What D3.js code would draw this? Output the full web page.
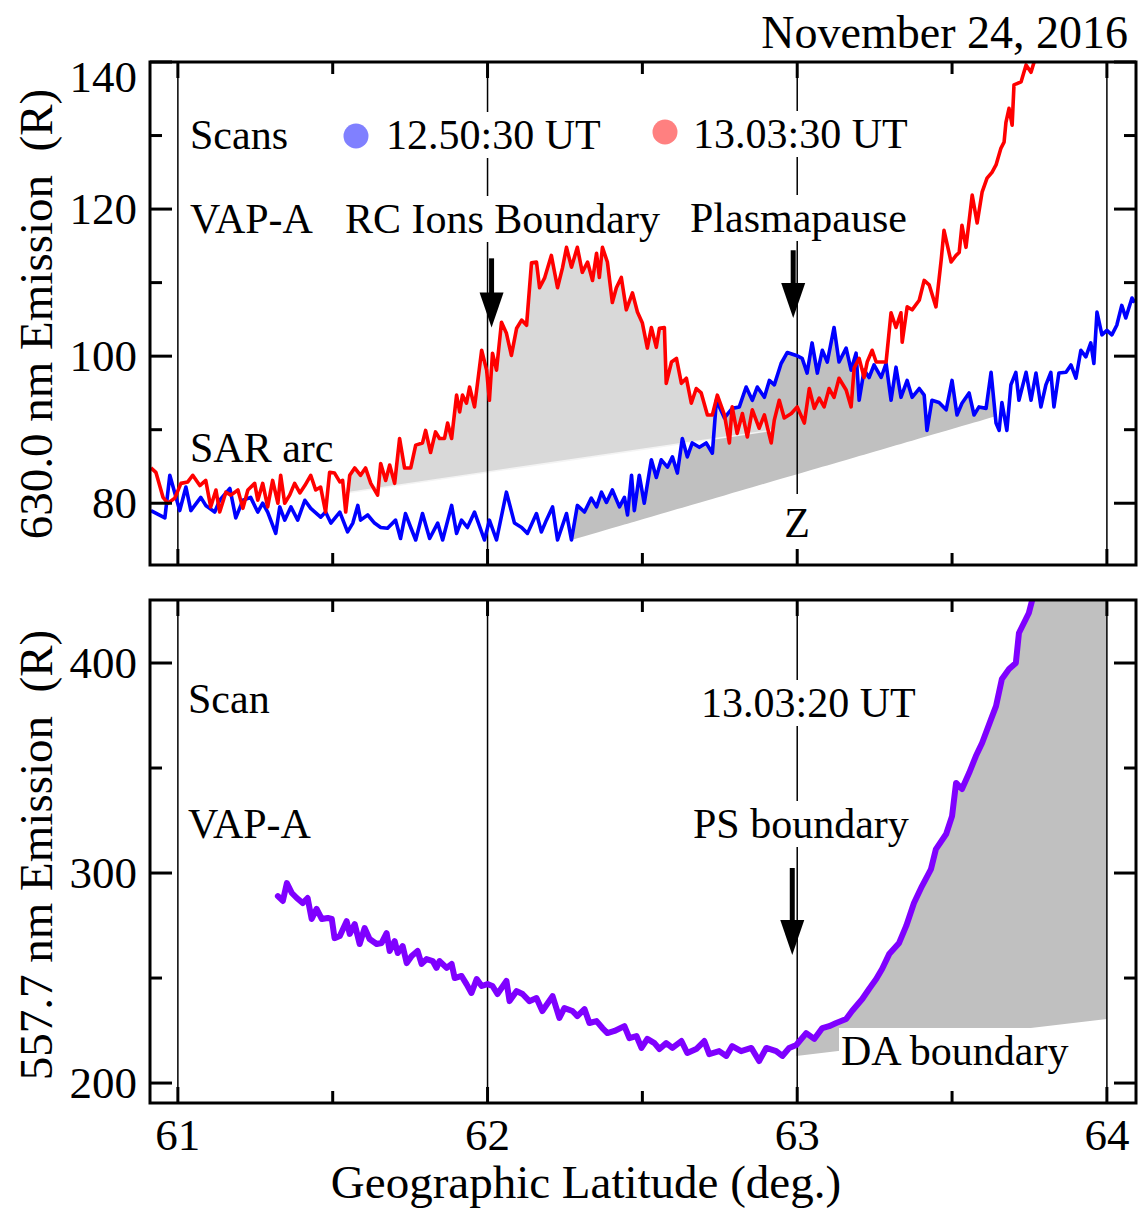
<!DOCTYPE html>
<html>
<head>
<meta charset="utf-8">
<script src="https://cdn.jsdelivr.net/npm/d3@7"></script>
<style>
  html, body { margin: 0; padding: 0; background: #fff; }
  svg { display: block; font-family: "Liberation Serif", "Times New Roman", serif; }
</style>
</head>
<body>
<svg id="chart" width="1138" height="1208"></svg>
<script>
// ---- Data: [geographic latitude (deg), emission (R)] ----
// 630.0 nm scan at 12.50:30 UT
const blueScan = [
  [60.913,79.0],[60.958,78.0],[60.974,83.8],[61.006,79.0],[61.026,82.2],[61.042,79.0],[61.074,80.8],[61.090,79.7],
  [61.119,78.8],[61.135,80.4],[61.168,82.0],[61.187,78.0],[61.210,80.4],[61.235,80.8],[61.258,78.8],[61.274,80.0],
  [61.290,78.8],[61.316,75.9],[61.329,79.5],[61.345,77.7],[61.365,79.5],[61.387,77.7],[61.410,80.4],[61.429,79.3],
  [61.461,78.1],[61.477,78.8],[61.494,77.3],[61.523,78.8],[61.548,76.1],[61.565,77.3],[61.581,79.7],[61.590,77.7],
  [61.613,78.4],[61.635,77.3],[61.655,76.7],[61.677,76.6],[61.703,77.7],[61.719,75.2],[61.735,78.6],[61.752,76.7],
  [61.768,75.0],[61.790,78.6],[61.813,75.2],[61.839,77.3],[61.855,75.0],[61.884,79.7],[61.900,75.9],[61.916,77.7],
  [61.935,76.7],[61.958,78.8],[61.990,75.0],[62.006,77.7],[62.029,75.0],[62.061,81.5],[62.087,77.3],[62.110,76.7],
  [62.129,75.9],[62.158,78.6],[62.174,76.1],[62.190,77.7],[62.210,79.5],[62.226,75.0],[62.255,78.6],[62.271,75.0],
  [62.290,79.7],[62.313,78.8],[62.335,80.7],[62.352,79.5],[62.368,81.5],[62.384,80.1],[62.403,81.8],[62.426,79.5],
  [62.442,80.8],[62.452,78.4],[62.465,83.8],[62.474,79.0],[62.490,83.8],[62.506,80.0],[62.529,85.9],[62.545,83.5],
  [62.561,85.9],[62.581,84.9],[62.597,86.3],[62.613,84.1],[62.629,88.8],[62.645,86.3],[62.661,88.2],[62.684,87.6],
  [62.706,88.2],[62.726,86.8],[62.739,94.0],[62.765,91.6],[62.790,92.9],[62.813,93.1],[62.835,95.8],[62.855,94.0],
  [62.871,95.8],[62.894,94.4],[62.910,96.7],[62.926,96.1],[62.948,99.0],[62.968,100.5],[62.997,100.1],[63.016,99.7],
  [63.032,97.7],[63.048,101.8],[63.065,97.7],[63.081,100.8],[63.097,99.2],[63.119,103.9],[63.135,99.2],[63.158,101.1],
  [63.174,98.1],[63.190,100.4],[63.200,94.0],[63.216,98.1],[63.232,97.1],[63.248,98.8],[63.271,97.1],[63.287,99.0],
  [63.303,94.0],[63.319,98.5],[63.335,94.4],[63.355,96.7],[63.371,94.4],[63.394,95.6],[63.410,94.7],[63.419,89.9],
  [63.435,94.0],[63.458,93.7],[63.481,92.7],[63.500,96.7],[63.516,92.0],[63.532,93.6],[63.555,95.0],[63.571,92.0],
  [63.587,93.1],[63.610,92.9],[63.626,97.8],[63.642,90.9],[63.652,89.9],[63.661,93.7],[63.677,89.9],[63.690,96.1],
  [63.706,97.8],[63.716,94.0],[63.739,97.8],[63.755,94.0],[63.771,97.7],[63.787,93.1],[63.803,96.1],[63.819,97.8],
  [63.829,93.1],[63.845,97.7],[63.868,97.8],[63.884,98.8],[63.900,97.0],[63.916,100.8],[63.932,99.9],[63.948,101.8],
  [63.958,99.0],[63.968,106.0],[63.984,102.9],[64.000,103.5],[64.016,102.9],[64.032,104.2],[64.048,106.9],[64.061,105.2],
  [64.081,107.9],[64.090,107.3]
];

// 630.0 nm scan at 13.03:30 UT
const redScan = [
  [60.913,84.8],[60.929,84.2],[60.952,80.8],[60.968,80.0],[60.990,80.7],[61.010,82.7],[61.032,82.9],[61.048,83.8],
  [61.071,82.4],[61.090,83.1],[61.106,79.5],[61.123,81.8],[61.135,78.8],[61.155,81.5],[61.171,81.1],[61.194,81.8],
  [61.210,79.3],[61.226,81.8],[61.248,82.7],[61.258,80.4],[61.274,82.7],[61.290,79.5],[61.306,83.1],[61.323,80.0],
  [61.332,83.8],[61.345,80.0],[61.361,81.1],[61.377,82.7],[61.394,81.4],[61.410,82.4],[61.429,83.8],[61.445,81.8],
  [61.461,82.2],[61.477,78.8],[61.490,84.2],[61.506,84.1],[61.523,82.9],[61.532,83.1],[61.542,78.8],[61.555,83.8],
  [61.571,84.8],[61.590,83.8],[61.606,84.8],[61.623,82.7],[61.645,81.1],[61.655,85.4],[61.671,83.1],[61.684,85.2],
  [61.700,82.7],[61.716,88.8],[61.732,84.8],[61.752,84.8],[61.768,87.9],[61.790,88.2],[61.800,89.9],[61.816,86.9],
  [61.832,89.7],[61.845,88.8],[61.861,88.8],[61.871,90.9],[61.884,88.8],[61.900,94.7],[61.910,92.4],[61.919,94.7],
  [61.932,93.6],[61.942,95.8],[61.958,93.1],[61.981,100.8],[61.997,98.1],[62.006,94.0],[62.016,100.4],[62.029,98.1],
  [62.045,104.6],[62.061,103.1],[62.077,100.1],[62.094,103.8],[62.110,104.9],[62.126,104.2],[62.142,112.7],[62.158,112.8],
  [62.168,109.3],[62.184,110.6],[62.206,113.7],[62.226,109.3],[62.242,112.0],[62.255,114.8],[62.271,112.1],[62.290,114.8],
  [62.306,111.4],[62.323,112.8],[62.339,110.3],[62.352,114.0],[62.361,110.7],[62.371,114.8],[62.387,112.8],[62.403,107.3],
  [62.416,109.3],[62.432,110.7],[62.448,106.3],[62.468,108.6],[62.484,106.0],[62.500,104.5],[62.516,101.1],[62.529,103.9],
  [62.545,101.2],[62.555,103.8],[62.571,103.9],[62.577,96.3],[62.594,99.2],[62.610,99.7],[62.626,96.3],[62.642,97.0],
  [62.658,93.6],[62.674,95.6],[62.690,95.0],[62.710,92.0],[62.726,92.0],[62.742,94.7],[62.765,92.0],[62.781,88.2],
  [62.790,93.1],[62.806,89.5],[62.823,92.2],[62.839,89.0],[62.855,92.7],[62.877,90.2],[62.894,92.0],[62.916,88.2],
  [62.926,91.3],[62.942,94.0],[62.958,91.6],[62.981,92.2],[63.000,93.1],[63.023,90.9],[63.039,95.6],[63.055,92.9],
  [63.071,94.3],[63.087,93.1],[63.103,95.6],[63.119,94.4],[63.135,97.0],[63.158,95.4],[63.174,93.1],[63.184,98.4],
  [63.200,99.7],[63.216,97.1],[63.226,99.2],[63.242,100.8],[63.255,99.2],[63.287,99.2],[63.303,105.9],[63.319,103.9],
  [63.335,105.9],[63.339,101.9],[63.355,106.7],[63.371,106.3],[63.394,107.6],[63.410,110.3],[63.426,109.7],[63.448,106.7],
  [63.465,113.1],[63.474,117.1],[63.497,112.8],[63.513,113.7],[63.523,114.1],[63.532,117.8],[63.545,114.8],[63.565,121.9],
  [63.581,118.1],[63.597,122.3],[63.613,124.2],[63.629,125.0],[63.642,126.0],[63.658,128.3],[63.668,129.1],[63.674,131.8],
  [63.684,133.7],[63.694,131.4],[63.700,136.9],[63.723,137.3],[63.739,139.6],[63.755,138.6],[63.765,140.0],[63.781,141.0]
];

// 557.7 nm scan at 13.03:20 UT
const purpleScan = [
  [61.323,289.0],[61.339,286.7],[61.352,295.2],[61.368,290.5],[61.384,288.1],[61.403,285.7],[61.419,288.1],[61.432,278.1],
  [61.448,282.9],[61.465,278.1],[61.484,278.6],[61.497,278.1],[61.506,269.0],[61.523,270.0],[61.545,277.1],[61.555,271.0],
  [61.571,275.7],[61.587,266.2],[61.603,273.8],[61.619,268.6],[61.642,266.2],[61.658,266.7],[61.674,271.4],[61.684,262.9],
  [61.700,267.6],[61.710,261.9],[61.726,265.2],[61.739,257.1],[61.755,260.5],[61.774,262.9],[61.787,256.7],[61.803,259.0],
  [61.823,258.1],[61.835,254.8],[61.845,258.1],[61.868,254.8],[61.884,256.7],[61.894,250.0],[61.916,251.0],[61.932,247.1],
  [61.948,242.9],[61.965,249.5],[61.981,246.2],[62.000,247.1],[62.016,246.2],[62.032,242.4],[62.061,248.6],[62.071,239.0],
  [62.094,243.8],[62.113,242.4],[62.135,239.0],[62.158,240.5],[62.177,234.3],[62.210,241.4],[62.232,231.0],[62.248,235.7],
  [62.274,234.3],[62.290,231.9],[62.313,235.2],[62.329,228.6],[62.352,229.5],[62.371,226.2],[62.387,223.8],[62.410,224.8],
  [62.442,227.1],[62.458,221.4],[62.481,222.4],[62.497,216.7],[62.516,221.0],[62.539,219.0],[62.555,216.2],[62.577,219.0],
  [62.597,216.7],[62.626,220.0],[62.645,214.3],[62.674,216.2],[62.700,220.0],[62.716,213.8],[62.748,215.2],[62.771,212.9],
  [62.790,217.6],[62.819,215.2],[62.852,216.7],[62.877,210.5],[62.900,216.7],[62.932,215.2],[62.952,212.9],[62.974,216.7],
  [62.997,218.1],[63.029,223.8],[63.055,221.0],[63.081,226.2],[63.103,227.1],[63.126,228.6],[63.158,230.5],[63.177,234.3],
  [63.210,240.0],[63.232,244.8],[63.255,249.5],[63.274,254.3],[63.297,261.4],[63.329,266.7],[63.352,274.8],[63.377,285.7],
  [63.403,293.8],[63.432,301.9],[63.448,311.4],[63.481,318.6],[63.500,327.1],[63.513,342.9],[63.532,340.0],[63.555,347.6],
  [63.577,355.7],[63.597,361.9],[63.626,373.3],[63.642,379.5],[63.661,392.4],[63.684,397.1],[63.706,400.0],[63.716,414.3],
  [63.748,423.8],[63.758,429.5],[63.768,433.3]
];

// Straight reference levels under the shaded regions: [[lat, R], [lat, R]]
const sarBaseRed  = [[61.542, 81.4], [62.916, 89.9]];
const sarBaseBlue = [[62.271, 75.0], [63.655, 92.0]];
const daBase      = [[62.997, 212.9], [64.000, 230.5]];

// Boundary arrows: [lat, start R, tip R]
const arrowsTop = [[62.013, 113.3, 103.9], [62.987, 114.4, 105.2]];
const arrowsBottom = [[62.984, 302.4, 261.0]];

// Ticks
const latMajor = [61, 62, 63, 64];
const latMinor = [61.5, 62.5, 63.5];
const topMajor = [80, 100, 120, 140];
const topMinor = [90, 110, 130];
const botMajor = [200, 300, 400];
const botMinor = [250, 350];

// ---- Layout ----
const svg = d3.select("#chart");
const L = 150, R = 1136;
const x = d3.scaleLinear().domain([60.91, 64.094]).range([L, R]);
const yTop = d3.scaleLinear().domain([71.6, 140]).range([565, 62]);
const yBot = d3.scaleLinear().domain([190.5, 430]).range([1103, 600]);

const defs = svg.append("defs");
function clip(id, y) {
  const [b, t] = y.range();
  defs.append("clipPath").attr("id", id)
    .append("rect").attr("x", L).attr("y", t).attr("width", R - L).attr("height", b - t);
}
clip("clipTop", yTop);
clip("clipBot", yBot);

const baseAt = (b, lat) => b[0][1] + (b[1][1] - b[0][1]) * (lat - b[0][0]) / (b[1][0] - b[0][0]);

const gTop = svg.append("g");
const gBot = svg.append("g");

// ---- Shaded regions ----
const fillTop = gTop.append("g").attr("clip-path", "url(#clipTop)");
const darkPts = blueScan.filter(d => d[0] >= sarBaseBlue[0][0] && d[0] <= sarBaseBlue[1][0]);
fillTop.append("path")
  .attr("d", d3.area()
    .x(d => x(d[0]))
    .y0(d => yTop(baseAt(sarBaseBlue, d[0])))
    .y1(d => yTop(Math.max(d[1], baseAt(sarBaseBlue, d[0]))))(darkPts))
  .attr("fill", "#c0c0c0");

const lightPts = redScan.filter(d => d[0] >= sarBaseRed[0][0] && d[0] <= sarBaseRed[1][0]);
fillTop.append("path")
  .attr("d", d3.area()
    .x(d => x(d[0]))
    .y0(d => yTop(baseAt(sarBaseRed, d[0])))
    .y1(d => yTop(Math.max(d[1], baseAt(sarBaseRed, d[0]))))(lightPts))
  .attr("fill", "#d9d9d9");
fillTop.append("line")
  .attr("x1", x(sarBaseRed[0][0])).attr("y1", yTop(sarBaseRed[0][1]))
  .attr("x2", x(sarBaseRed[1][0])).attr("y2", yTop(sarBaseRed[1][1]))
  .attr("stroke", "#f4f4f4").attr("stroke-width", 1.6);

const fillBot = gBot.append("g").attr("clip-path", "url(#clipBot)");
const daCurve = purpleScan.filter(d => d[0] >= daBase[0][0]);
const lastLat = daCurve[daCurve.length - 1][0];
const daPoly = daCurve.concat([[lastLat, 450], [daBase[1][0], 450], daBase[1], daBase[0]]);
fillBot.append("path")
  .attr("d", d3.line().x(d => x(d[0])).y(d => yBot(d[1]))(daPoly) + "Z")
  .attr("fill", "#c0c0c0");

// ---- Latitude guide lines ----
function guides(g, y) {
  const [b, t] = y.range();
  g.selectAll(null).data(latMajor).join("line")
    .attr("x1", d => x(d)).attr("x2", d => x(d))
    .attr("y1", t).attr("y2", b)
    .attr("stroke", "#000").attr("stroke-width", 1.5);
}
guides(gTop, yTop);
guides(gBot, yBot);

// ---- Annotations (white box behind each label) ----
function labels(g, items) {
  items.forEach(it => {
    const t = g.append("text")
      .attr("x", it.x).attr("y", it.y)
      .attr("font-size", 42)
      .attr("text-anchor", it.anchor || "start")
      .attr("fill", "#000")
      .text(it.t);
    const bb = t.node().getBBox();
    const pad = it.pad || 0;
    g.insert("rect", () => t.node())
      .attr("x", bb.x - 2).attr("y", bb.y - pad)
      .attr("width", bb.width + 4).attr("height", bb.height + 2 * pad)
      .attr("fill", "#fff");
  });
}
labels(gTop, [
  { t: "Scans", x: 190, y: 149 },
  { t: "12.50:30 UT", x: 386, y: 149 },
  { t: "13.03:30 UT", x: 693, y: 148 },
  { t: "VAP-A", x: 190, y: 233 },
  { t: "RC Ions Boundary", x: 345, y: 233 },
  { t: "Plasmapause", x: 690, y: 232 },
  { t: "SAR arc", x: 190, y: 462 },
  { t: "Z", x: 797, y: 537, anchor: "middle", pad: 6 }
]);
labels(gBot, [
  { t: "Scan", x: 188, y: 713 },
  { t: "13.03:20 UT", x: 701, y: 717 },
  { t: "VAP-A", x: 188, y: 838 },
  { t: "PS boundary", x: 693, y: 838 },
  { t: "DA boundary", x: 841, y: 1065 }
]);

// Legend markers
gTop.append("circle").attr("cx", 356).attr("cy", 136).attr("r", 12.5).attr("fill", "#8080ff");
gTop.append("circle").attr("cx", 665).attr("cy", 132).attr("r", 12.5).attr("fill", "#ff8080");

// ---- Scans ----
const curveTop = gTop.append("g").attr("clip-path", "url(#clipTop)");
const lineTop = d3.line().x(d => x(d[0])).y(d => yTop(d[1]));
curveTop.append("path").attr("d", lineTop(blueScan))
  .attr("fill", "none").attr("stroke", "#0000ff").attr("stroke-width", 3.6).attr("stroke-linejoin", "round");
curveTop.append("path").attr("d", lineTop(redScan))
  .attr("fill", "none").attr("stroke", "#ff0000").attr("stroke-width", 3.6).attr("stroke-linejoin", "round");

const curveBot = gBot.append("g").attr("clip-path", "url(#clipBot)");
curveBot.append("path").attr("d", d3.line().x(d => x(d[0])).y(d => yBot(d[1]))(purpleScan))
  .attr("fill", "none").attr("stroke", "#7f00ff").attr("stroke-width", 6).attr("stroke-linejoin", "round")
  .attr("stroke-linecap", "round");

// ---- Arrows ----
function arrows(g, y, list) {
  list.forEach(([lat, from, tip]) => {
    const ax = x(lat), y0 = y(from), y1 = y(tip);
    const head = 35, half = 12;
    g.append("line").attr("x1", ax).attr("x2", ax).attr("y1", y0).attr("y2", y1 - head + 2)
      .attr("stroke", "#000").attr("stroke-width", 5);
    g.append("path")
      .attr("d", `M${ax - half},${y1 - head} L${ax + half},${y1 - head} L${ax},${y1} Z`)
      .attr("fill", "#000");
  });
}
arrows(gTop, yTop, arrowsTop);
arrows(gBot, yBot, arrowsBottom);

// ---- Frames and ticks ----
function frame(g, y, major, minor) {
  const [b, t] = y.range();
  const tk = (x1, y1, x2, y2) => g.append("line")
    .attr("x1", x1).attr("y1", y1).attr("x2", x2).attr("y2", y2)
    .attr("stroke", "#000").attr("stroke-width", 3);
  latMajor.forEach(v => { tk(x(v), b, x(v), b - 16); tk(x(v), t, x(v), t + 16); });
  latMinor.forEach(v => { tk(x(v), b, x(v), b - 12); tk(x(v), t, x(v), t + 12); });
  major.forEach(v => { tk(L, y(v), L + 22, y(v)); tk(R, y(v), R - 22, y(v)); });
  minor.forEach(v => { tk(L, y(v), L + 12, y(v)); tk(R, y(v), R - 12, y(v)); });
  g.append("rect").attr("x", L).attr("y", t).attr("width", R - L).attr("height", b - t)
    .attr("fill", "none").attr("stroke", "#000").attr("stroke-width", 3);
  g.selectAll(null).data(major).join("text")
    .attr("x", 137)
    .attr("y", v => Math.max(y(v), t + 15) + 15)
    .attr("text-anchor", "end").attr("font-size", 45)
    .text(v => v);
}
frame(gTop, yTop, topMajor, topMinor);
frame(gBot, yBot, botMajor, botMinor);

// Latitude labels
svg.selectAll(null).data(latMajor).join("text")
  .attr("x", d => x(d)).attr("y", 1150)
  .attr("text-anchor", "middle").attr("font-size", 45)
  .text(d => d);

svg.append("text").attr("x", 586).attr("y", 1198)
  .attr("text-anchor", "middle").attr("font-size", 47)
  .text("Geographic Latitude (deg.)");

// Axis titles
function yTitle(text, cy) {
  svg.append("text")
    .attr("transform", `translate(52,${cy}) rotate(-90)`)
    .attr("text-anchor", "middle").attr("font-size", 47)
    .style("white-space", "pre")
    .text(text);
}
yTitle("630.0 nm Emission  (R)", 314);
yTitle("557.7 nm Emission  (R)", 855);

// Date
svg.append("text").attr("x", 1128).attr("y", 48)
  .attr("text-anchor", "end").attr("font-size", 46)
  .text("November 24, 2016");
</script>
</body>
</html>
